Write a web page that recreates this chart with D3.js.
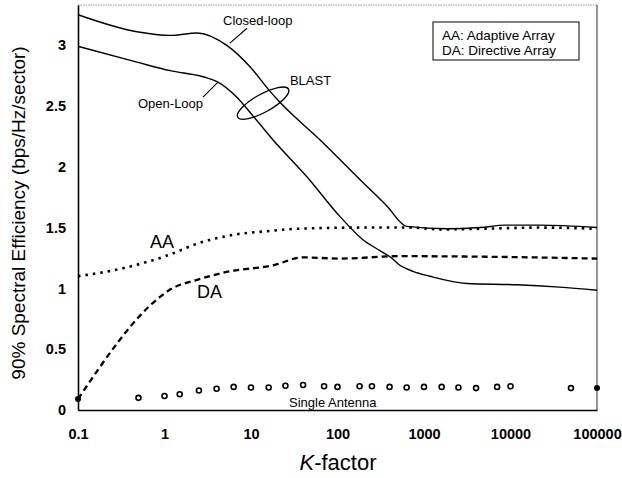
<!DOCTYPE html>
<html><head><meta charset="utf-8">
<script src="https://cdn.jsdelivr.net/npm/d3@7"></script>
<style>
body{margin:0;background:#fff;}
svg{display:block;font-family:"Liberation Sans",Arial,Helvetica,sans-serif;}
</style></head>
<body><svg id="c" width="622" height="478"></svg>
<script>
// ---- data ----
const xTicks = [0.1, 1, 10, 100, 1000, 10000, 100000];
const xTickLabels = ["0.1", "1", "10", "100", "1000", "10000", "100000"];
const yTicks = [0, 0.5, 1, 1.5, 2, 2.5, 3];
const yTickLabels = ["0", "0.5", "1", "1.5", "2", "2.5", "3"];

const kClosed = [0.1, 0.48, 1.16, 2.38, 5.2, 9.8, 16.6, 21.6, 63, 197, 370, 631, 1845, 4440, 8700, 21800, 100000];
const closedLoop = [3.25, 3.11, 3.08, 3.10, 3.00, 2.82, 2.62, 2.53, 2.22, 1.87, 1.68, 1.51, 1.49, 1.50, 1.52, 1.52, 1.50];

const kOpen = [0.1, 0.48, 1.16, 2.79, 4.05, 6.9, 10.5, 18, 44, 107, 197, 310, 404, 525, 746, 1170, 3140, 11900, 37000, 100000];
const openLoop = [2.99, 2.86, 2.79, 2.74, 2.70, 2.57, 2.42, 2.22, 1.92, 1.59, 1.40, 1.31, 1.26, 1.19, 1.14, 1.10, 1.04, 1.03, 1.01, 0.985];

const kAA = [0.1, 0.306, 1.07, 2.57, 6.2, 15.3, 34, 197, 690, 1530, 4440, 21800, 100000];
const adaptiveArray = [1.10, 1.16, 1.27, 1.375, 1.44, 1.47, 1.49, 1.50, 1.50, 1.485, 1.49, 1.50, 1.49];

const kDA = [0.1, 0.887, 1.16, 2.38, 5.2, 18, 40, 107, 525, 5400, 100000];
const directiveArray = [0.09, 0.93, 0.99, 1.07, 1.135, 1.19, 1.255, 1.245, 1.265, 1.26, 1.245];

const kSingle = [0.5, 1, 1.5, 2.5, 4, 6.3, 10, 16, 25, 40, 70, 100, 180, 250, 400, 630, 1000, 1600, 2500, 4000, 7000, 10000, 50000];
const singleAntenna = [0.10, 0.115, 0.13, 0.16, 0.175, 0.19, 0.185, 0.185, 0.20, 0.205, 0.195, 0.19, 0.195, 0.195, 0.19, 0.185, 0.19, 0.19, 0.185, 0.18, 0.19, 0.195, 0.18];
const kFilled = [0.1, 100000];
const filledVals = [0.09, 0.18];

// ---- layout ----
const L = 78, R = 597, T = 5, B = 410;
const svg = d3.select("#c");
const x = d3.scaleLog().domain([0.1, 100000]).range([L, R]);
const y = d3.scaleLinear().domain([0, 3.33]).range([B, T]);

// frame
svg.append("line").attr("x1", L).attr("x2", R).attr("y1", T).attr("y2", T)
  .attr("stroke", "#777").attr("stroke-width", 0.8).attr("stroke-dasharray", "1.5,1");
svg.append("line").attr("x1", R).attr("x2", R).attr("y1", T).attr("y2", B)
  .attr("stroke", "#333").attr("stroke-width", 1);

// axes
const xAxis = d3.axisBottom(x).tickValues(xTicks).tickSize(0).tickPadding(19)
  .tickFormat((d, i) => xTickLabels[i]);
const gx = svg.append("g").attr("transform", `translate(0,${B})`).call(xAxis);
gx.select(".domain").attr("stroke", "#000").attr("stroke-width", 1.6);
gx.selectAll("text").attr("font-size", 14.5).attr("fill", "#000").attr("font-family", "Liberation Sans, Arial, sans-serif").attr("font-weight", "bold");

const yAxis = d3.axisLeft(y).tickValues(yTicks).tickSize(0).tickPadding(12)
  .tickFormat((d, i) => yTickLabels[i]);
const gy = svg.append("g").attr("transform", `translate(${L},0)`).call(yAxis);
gy.select(".domain").attr("stroke", "#000").attr("stroke-width", 1.6);
gy.selectAll("text").attr("font-size", 14.5).attr("fill", "#000").attr("font-family", "Liberation Sans, Arial, sans-serif").attr("font-weight", "bold");

// lines
const line = d3.line().x(d => x(d[0])).y(d => y(d[1])).curve(d3.curveMonotoneX);
const zip = (a, b) => a.map((v, i) => [v, b[i]]);

svg.append("path").datum(zip(kClosed, closedLoop)).attr("d", line)
  .attr("fill", "none").attr("stroke", "#000").attr("stroke-width", 1.4);
svg.append("path").datum(zip(kOpen, openLoop)).attr("d", line)
  .attr("fill", "none").attr("stroke", "#000").attr("stroke-width", 1.4);
svg.append("path").datum(zip(kAA, adaptiveArray)).attr("d", line)
  .attr("fill", "none").attr("stroke", "#000").attr("stroke-width", 2.6)
  .attr("stroke-dasharray", "2.5,5");
svg.append("path").datum(zip(kDA, directiveArray)).attr("d", line)
  .attr("fill", "none").attr("stroke", "#000").attr("stroke-width", 2.3)
  .attr("stroke-dasharray", "6,4");

// single antenna markers
svg.append("g").selectAll("circle").data(zip(kSingle, singleAntenna)).join("circle")
  .attr("cx", d => x(d[0])).attr("cy", d => y(d[1])).attr("r", 2.5)
  .attr("fill", "#fff").attr("stroke", "#000").attr("stroke-width", 1.6);
svg.append("g").selectAll("circle").data(zip(kFilled, filledVals)).join("circle")
  .attr("cx", d => x(d[0])).attr("cy", d => y(d[1])).attr("r", 3)
  .attr("fill", "#000");

// annotations
const ann = svg.append("g").attr("fill", "#000");
ann.append("text").attr("x", x(4.75)).attr("y", y(3.163)).attr("font-size", 13).text("Closed-loop");
ann.append("line").attr("x1", x(5.7)).attr("y1", y(3.016)).attr("x2", x(9.0)).attr("y2", y(3.139))
  .attr("stroke", "#000").attr("stroke-width", 1.1);
ann.append("text").attr("x", x(0.494)).attr("y", y(2.48)).attr("font-size", 13).text("Open-Loop");
ann.append("line").attr("x1", x(2.79)).attr("y1", y(2.572)).attr("x2", x(4.15)).attr("y2", y(2.695))
  .attr("stroke", "#000").attr("stroke-width", 1.1);
ann.append("text").attr("x", x(28.2)).attr("y", y(2.67)).attr("font-size", 13).text("BLAST");
ann.append("ellipse").attr("cx", x(13.8)).attr("cy", y(2.523)).attr("rx", 29).attr("ry", 9)
  .attr("transform", `rotate(-29 ${x(13.8)} ${y(2.523)})`)
  .attr("fill", "none").attr("stroke", "#000").attr("stroke-width", 1.3);
ann.append("text").attr("x", x(0.68)).attr("y", y(1.33)).attr("font-size", 18).text("AA");
ann.append("text").attr("x", x(2.38)).attr("y", y(0.92)).attr("font-size", 18).text("DA");
ann.append("text").attr("x", x(27.5)).attr("y", y(0.025)).attr("font-size", 13).text("Single Antenna");

// legend box
svg.append("rect").attr("x", 433).attr("y", 22).attr("width", 146).attr("height", 38)
  .attr("fill", "#fff").attr("stroke", "#000").attr("stroke-width", 1);
svg.append("text").attr("x", 442).attr("y", 40).attr("font-size", 13.5).text("AA: Adaptive Array");
svg.append("text").attr("x", 442).attr("y", 55).attr("font-size", 13.5).text("DA: Directive Array");

// axis titles
const xt = svg.append("text").attr("x", 338).attr("y", 470).attr("text-anchor", "middle").attr("font-size", 22);
xt.append("tspan").attr("font-style", "italic").text("K");
xt.append("tspan").text("-factor");
svg.append("text").attr("transform", "translate(25,213) rotate(-90)").attr("text-anchor", "middle")
  .attr("font-size", 19).text("90% Spectral Efficiency (bps/Hz/sector)");
</script></body></html>
